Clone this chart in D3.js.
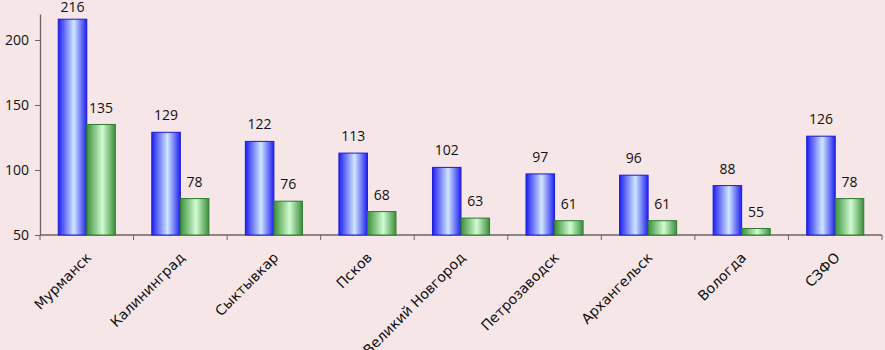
<!DOCTYPE html>
<html>
<head>
<meta charset="utf-8">
<script src="https://cdn.jsdelivr.net/npm/d3@7"></script>
<style>
  body { margin: 0; background: #f7e6e8; }
  svg { display: block; }
</style>
</head>
<body>
<div id="chart"></div>
<script>
const cities = ["Мурманск", "Калининград", "Сыктывкар", "Псков", "Великий Новгород",
    "Петрозаводск", "Архангельск", "Вологда", "СЗФО"];
const seriesA = [216, 129, 122, 113, 102, 97, 96, 88, 126];
const seriesB = [135, 78, 76, 68, 63, 61, 61, 55, 78];
const yTicks = [50, 100, 150, 200];

const width = 885, height = 350;
const margin = {top: 14, right: 3, bottom: 115, left: 40};
const w = width - margin.left - margin.right;
const h = height - margin.top - margin.bottom;

const svg = d3.select("#chart").append("svg")
    .attr("width", width)
    .attr("height", height);

const defs = svg.append("defs");
function grad(id, dark, light) {
    const g = defs.append("linearGradient").attr("id", id)
        .attr("x1", "0%").attr("x2", "100%").attr("y1", "0%").attr("y2", "0%");
    g.append("stop").attr("offset", "0%").attr("stop-color", dark);
    g.append("stop").attr("offset", "55%").attr("stop-color", light);
    g.append("stop").attr("offset", "100%").attr("stop-color", dark);
}
grad("gBlue", "#2020f0", "#cfe6ff");
grad("gGreen", "#3a8f3a", "#d2fbd2");

const g = svg.append("g")
    .attr("transform", "translate(" + margin.left + "," + margin.top + ")");

const x = d3.scaleBand()
    .domain(cities)
    .range([0, w])
    .paddingInner(0)
    .paddingOuter(0);

const inner = d3.scaleBand()
    .domain([0, 1])
    .range([x.bandwidth() * 0.195, x.bandwidth() * 0.805]);

const y = d3.scaleLinear()
    .domain([50, 220])
    .range([h, 0]);

const axisColor = "#6e6262";

// y axis
const yAxis = g.append("g")
    .call(d3.axisLeft(y).tickValues(yTicks).tickSize(5).tickPadding(6).tickSizeOuter(0));
yAxis.select(".domain").attr("stroke", axisColor).attr("stroke-width", 1.3);
yAxis.selectAll("line").attr("stroke", axisColor);
yAxis.selectAll("text")
    .style("font-family", "'Open Sans', sans-serif")
    .style("font-size", "14px")
    .attr("fill", "#111");

// x axis, ticks at category boundaries
const xAxisG = g.append("g").attr("transform", "translate(0," + h + ")");
xAxisG.append("line")
    .attr("x1", 0).attr("x2", w)
    .attr("stroke", axisColor).attr("stroke-width", 1.3);
xAxisG.selectAll("line.tick")
    .data(d3.range(cities.length + 1))
    .enter().append("line").attr("class", "tick")
    .attr("x1", i => i < cities.length ? x(cities[i]) : w)
    .attr("x2", i => i < cities.length ? x(cities[i]) : w)
    .attr("y1", 0).attr("y2", 5)
    .attr("stroke", axisColor);

xAxisG.selectAll("text")
    .data(cities)
    .enter().append("text")
    .attr("transform", d => "translate(" + (x(d) + x.bandwidth() / 2 + 2) + ",20) rotate(-45)")
    .attr("text-anchor", "end")
    .attr("dy", "0.35em")
    .style("font-family", "'DejaVu Sans', sans-serif")
    .style("font-size", "14px")
    .attr("fill", "#111")
    .text(d => d);

// bars
const groups = g.selectAll("g.grp")
    .data(cities)
    .enter().append("g").attr("class", "grp")
    .attr("transform", d => "translate(" + x(d) + ",0)");

const series = [
    {values: seriesA, fill: "url(#gBlue)", stroke: "#1a1ad8"},
    {values: seriesB, fill: "url(#gGreen)", stroke: "#2e7a2e"}
];

series.forEach((s, si) => {
    groups.append("rect")
        .attr("x", inner(si))
        .attr("y", (d, i) => y(s.values[i]))
        .attr("width", inner.bandwidth())
        .attr("height", (d, i) => h - y(s.values[i]))
        .attr("fill", s.fill)
        .attr("stroke", s.stroke)
        .attr("stroke-width", 1);

    groups.append("text")
        .attr("x", inner(si) + inner.bandwidth() / 2)
        .attr("y", (d, i) => Math.max(y(s.values[i]) - 12, -2))
        .attr("text-anchor", "middle")
        .style("font-family", "'Open Sans', sans-serif")
        .style("font-size", "14px")
        .attr("fill", "#111")
        .text((d, i) => s.values[i]);
});
</script>
</body>
</html>
